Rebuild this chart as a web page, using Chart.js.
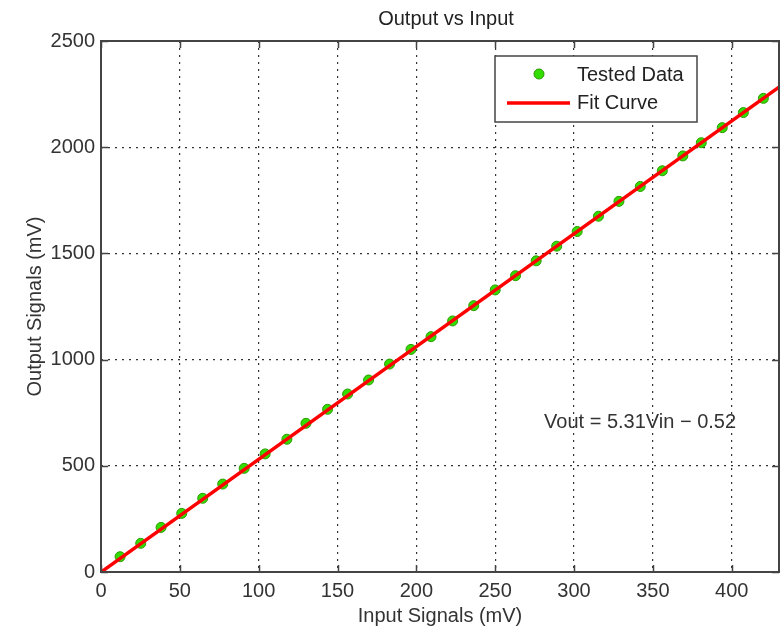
<!DOCTYPE html>
<html lang="en">
<head>
  <meta charset="UTF-8">
  <title>Output vs Input</title>
  <script src="https://cdn.jsdelivr.net/npm/chart.js"></script>
  <style>
    html, body { margin: 0; padding: 0; background: #fff; }
    #wrap { width: 781px; height: 628px; }
  </style>
</head>
<body>
  <div id="wrap"><canvas id="fitChart" width="781" height="628"></canvas></div>

  <script>
    // Measured input / output pairs (mV)
    const inputMv = [12.1, 25.2, 38.1, 51.2, 64.5, 77.2, 90.8, 104.1, 117.9, 130, 143.7, 156.4,
                     169.7, 183, 196.6, 209.3, 223, 236.4, 250, 262.9, 276, 289, 302, 315.5,
                     328.5, 342, 356, 369, 380.7, 394, 407.4, 420.1];
    const outputMv = [72, 135, 210, 276, 347, 414, 488, 556, 625, 700, 766, 838,
                      904, 979, 1048, 1108, 1182, 1254, 1328, 1395, 1465, 1534, 1603, 1675,
                      1745, 1815, 1889, 1959, 2021, 2092, 2163, 2230];

    // Linear fit: Vout = 5.31 Vin - 0.52
    const fitSlope = 5.31;
    const fitIntercept = -0.52;
    const fitInputs = [0, 430];

    const xTicks = [0, 50, 100, 150, 200, 250, 300, 350, 400];
    const yTicks = [0, 500, 1000, 1500, 2000, 2500];

    const FONT = 'Arial, "Liberation Sans", Helvetica, sans-serif';
    const TEXT = '#333';

    const testedPts = inputMv.map((x, i) => ({ x: x, y: outputMv[i] }));
    const fitPts = fitInputs.map(x => ({ x: x, y: fitSlope * x + fitIntercept }));

    // box, inward ticks, title, legend and equation text
    const matlabFrame = {
      id: 'matlabFrame',
      afterDraw(chart) {
        const ctx = chart.ctx;
        const ca = chart.chartArea;
        const xs = chart.scales.x, ys = chart.scales.y;
        ctx.save();

        ctx.strokeStyle = '#444';
        ctx.lineWidth = 1.5;
        ctx.beginPath();
        xTicks.forEach(v => {
          const px = Math.round(xs.getPixelForValue(v)) + 0.5;
          ctx.moveTo(px, ca.bottom); ctx.lineTo(px, ca.bottom - 7);
          ctx.moveTo(px, ca.top); ctx.lineTo(px, ca.top + 7);
        });
        yTicks.forEach(v => {
          const py = Math.round(ys.getPixelForValue(v)) + 0.5;
          ctx.moveTo(ca.left, py); ctx.lineTo(ca.left + 7, py);
          ctx.moveTo(ca.right, py); ctx.lineTo(ca.right - 7, py);
        });
        ctx.stroke();

        ctx.lineWidth = 2;
        ctx.strokeRect(ca.left, ca.top, ca.right - ca.left, ca.bottom - ca.top);

        // title
        ctx.fillStyle = '#222';
        ctx.font = '20px ' + FONT;
        ctx.textAlign = 'center';
        ctx.textBaseline = 'middle';
        ctx.fillText('Output vs Input', (ca.left + ca.right) / 2 + 6, 19);

        // legend
        const lx = ca.right - 284, ly = ca.top + 15, lw = 202, lh = 66;
        ctx.fillStyle = '#fff';
        ctx.fillRect(lx, ly, lw, lh);
        ctx.strokeStyle = '#444';
        ctx.lineWidth = 1.5;
        ctx.strokeRect(lx, ly, lw, lh);

        ctx.beginPath();
        ctx.arc(lx + 44, ly + 18, 5, 0, Math.PI * 2);
        ctx.fillStyle = '#33dd00';
        ctx.fill();
        ctx.strokeStyle = '#2a9a00';
        ctx.lineWidth = 1;
        ctx.stroke();

        ctx.strokeStyle = '#ff0000';
        ctx.lineWidth = 3.5;
        ctx.beginPath();
        ctx.moveTo(lx + 12, ly + 47);
        ctx.lineTo(lx + 75, ly + 47);
        ctx.stroke();

        ctx.fillStyle = '#222';
        ctx.textAlign = 'left';
        ctx.fillText('Tested Data', lx + 82, ly + 19);
        ctx.fillText('Fit Curve', lx + 82, ly + 47);

        // fit equation
        ctx.fillStyle = '#333';
        ctx.fillText('Vout = ' + fitSlope.toFixed(2) + 'Vin \u2212 ' + Math.abs(fitIntercept).toFixed(2),
          xs.getPixelForValue(281), ys.getPixelForValue(706));

        ctx.restore();
      }
    };

    new Chart(document.getElementById('fitChart'), {
      type: 'scatter',
      data: {
        datasets: [
          {
            label: 'Fit Curve',
            data: fitPts,
            showLine: true,
            borderColor: '#ff0000',
            borderWidth: 3.5,
            pointRadius: 0,
            order: 0
          },
          {
            label: 'Tested Data',
            data: testedPts,
            pointRadius: 5,
            pointBackgroundColor: '#33dd00',
            pointBorderColor: '#2a9a00',
            pointBorderWidth: 1,
            order: 1
          }
        ]
      },
      options: {
        responsive: false,
        animation: false,
        layout: { autoPadding: false, padding: { top: 41, right: 2, left: 0, bottom: 0 } },
        plugins: {
          legend: { display: false },
          tooltip: { enabled: false },
          title: { display: false }
        },
        scales: {
          x: {
            type: 'linear',
            min: 0,
            max: 430,
            afterBuildTicks: s => { s.ticks = xTicks.map(v => ({ value: v })); },
            afterFit: s => { s.height = 56; s.paddingLeft = 0; s.paddingRight = 0; },
            grid: { color: '#333', lineWidth: 1.2, drawTicks: false },
            border: { display: false, dash: [2, 5] },
            ticks: {
              font: { family: FONT, size: 20 }, color: TEXT, padding: 7,
              maxRotation: 0, autoSkip: false, callback: v => String(v)
            },
            title: {
              display: true,
              text: 'Input Signals (mV)',
              font: { family: FONT, size: 20 },
              color: TEXT,
              padding: { top: 0, bottom: 0 }
            }
          },
          y: {
            type: 'linear',
            min: 0,
            max: 2500,
            afterBuildTicks: s => { s.ticks = yTicks.map(v => ({ value: v })); },
            afterFit: s => { s.width = 101; },
            grid: { color: '#333', lineWidth: 1.2, drawTicks: false },
            border: { display: false, dash: [2, 5] },
            ticks: { font: { family: FONT, size: 20 }, color: TEXT, padding: 6, callback: v => String(v) },
            title: {
              display: true,
              text: 'Output Signals (mV)',
              font: { family: FONT, size: 20 },
              color: TEXT,
              padding: { top: 23, bottom: 0 }
            }
          }
        }
      },
      plugins: [matlabFrame]
    });
  </script>
</body>
</html>
